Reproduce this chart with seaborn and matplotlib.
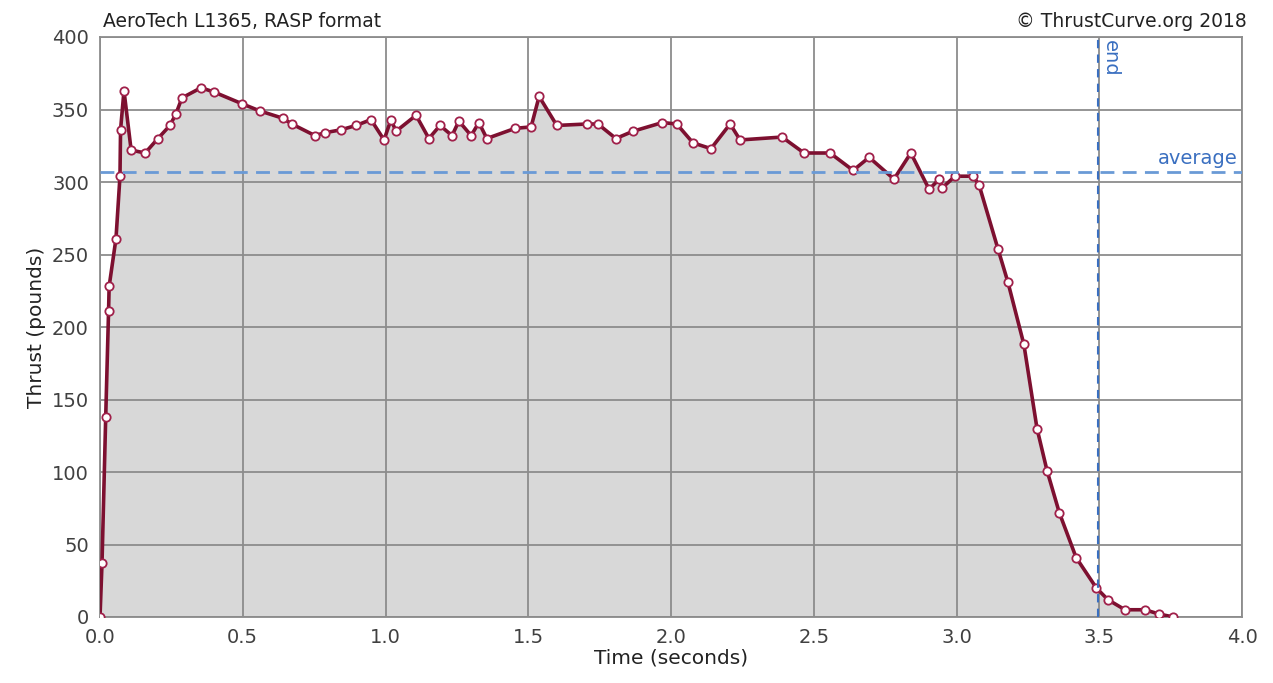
import matplotlib
matplotlib.use("Agg")
import matplotlib.pyplot as plt
import seaborn as sns
import pandas as pd

time_s = [0.0, 0.007, 0.02, 0.03, 0.032, 0.056, 0.07, 0.072, 0.084, 0.109, 0.158, 0.203,
          0.245, 0.266, 0.287, 0.354, 0.40, 0.497, 0.56, 0.64, 0.672, 0.753, 0.788,
          0.844, 0.897, 0.949, 0.995, 1.019, 1.037, 1.107, 1.152, 1.191, 1.233, 1.257,
          1.30, 1.327, 1.355, 1.454, 1.51, 1.538, 1.60, 1.706, 1.744, 1.807, 1.867,
          1.97, 2.02, 2.077, 2.14, 2.207, 2.242, 2.389, 2.466, 2.557, 2.638, 2.694,
          2.781, 2.84, 2.904, 2.94, 2.95, 2.995, 3.058, 3.079, 3.145, 3.18, 3.236,
          3.282, 3.317, 3.36, 3.419, 3.49, 3.53, 3.59, 3.66, 3.71, 3.76]
thrust_lb = [0, 37, 138, 211, 228, 261, 304, 336, 363, 322, 320, 330,
             339, 347, 358, 365, 362, 354, 349, 344, 340, 332, 334,
             336, 339, 343, 329, 343, 335, 346, 330, 339, 332, 342,
             332, 341, 330, 337, 338, 359, 339, 340, 340, 330, 335,
             341, 340, 327, 323, 340, 329, 331, 320, 320, 308, 317,
             302, 320, 295, 302, 296, 304, 304, 298, 254, 231, 188,
             130, 101, 72, 41, 20, 12, 5, 5, 2, 0]
average_lb = 307
end_s = 3.496
x_ticks = [0.0, 0.5, 1.0, 1.5, 2.0, 2.5, 3.0, 3.5, 4.0]
y_ticks = [0, 50, 100, 150, 200, 250, 300, 350, 400]

df = pd.DataFrame({"Time": time_s, "Thrust": thrust_lb})

sns.set_style("white")
plt.rcParams['font.family'] = ['DejaVu Sans']

fig = plt.figure(figsize=(12.73, 6.83), dpi=100)
ax = fig.add_axes([100/1273, 1 - 617/683, 1142/1273, 580/683])

ax.fill_between(df["Time"], df["Thrust"], 0, color="#d8d8d8", zorder=1, linewidth=0)
sns.lineplot(data=df, x="Time", y="Thrust", ax=ax, color="#7d1030", linewidth=2.6,
             marker="o", markersize=6, markerfacecolor="white",
             markeredgecolor="#a0204a", markeredgewidth=1.3, zorder=3,
             sort=False, estimator=None)

ax.set_xlim(0, 4.0)
ax.set_ylim(0, 400)
ax.set_xticks(x_ticks)
ax.set_yticks(y_ticks)
ax.set_xticklabels([f"{v:.1f}" for v in x_ticks])
ax.set_yticklabels([str(v) for v in y_ticks])
ax.grid(True, color="#8c8c8c", linewidth=1.3, zorder=2)
ax.set_axisbelow(False)
for sp in ax.spines.values():
    sp.set_color("#8c8c8c")
    sp.set_linewidth(1.3)
ax.tick_params(axis="both", labelsize=14, colors="#404040", length=5, color="#8c8c8c",
               pad=3)

ax.axhline(average_lb, color="#6a9ad6", linestyle=(0, (5, 3)), linewidth=2, zorder=4)
ax.axvline(end_s, color="#3a6fc0", linestyle=(0, (4, 3)), linewidth=1.5, zorder=4)
ax.text(3.985, average_lb + 2.5, "average", color="#3a6fc0", fontsize=14,
        ha="right", va="bottom", zorder=5)
ax.text(end_s + 0.008, 398, "end", color="#3a6fc0", fontsize=14, rotation=-90,
        ha="left", va="top", zorder=5)

ax.set_xlabel("Time (seconds)", fontsize=14.5, color="#222222", labelpad=1)
ax.set_ylabel("Thrust (pounds)", fontsize=14.5, color="#222222", labelpad=4)

fig.text(103/1273, 1 - 31/683, "AeroTech L1365, RASP format", fontsize=13.5,
         ha="left", va="bottom", color="#222222")
fig.text(1247/1273, 1 - 31/683, "© ThrustCurve.org 2018", fontsize=13.5,
         ha="right", va="bottom", color="#222222")

fig.savefig("out.png", dpi=100)
